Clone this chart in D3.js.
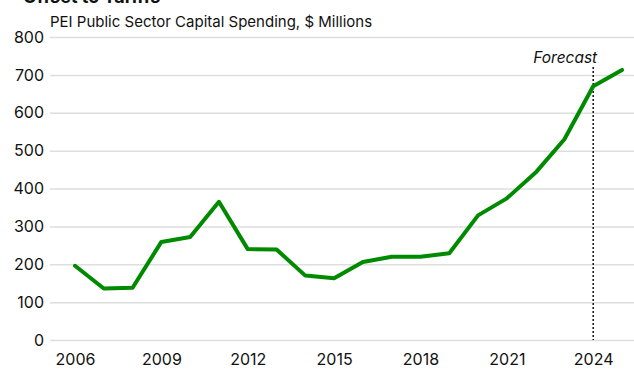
<!DOCTYPE html>
<html>
<head>
<meta charset="utf-8">
<script src="https://cdn.jsdelivr.net/npm/d3@7"></script>
<style>
  html, body { margin: 0; padding: 0; background: #fff; }
  svg { display: block; font-family: Inter, "Open Sans", sans-serif; }
</style>
</head>
<body>
<svg id="chart" width="634" height="369"></svg>
<script>
// PEI public sector capital spending, $ millions (2024 onward is forecast)
const years = [2006, 2007, 2008, 2009, 2010, 2011, 2012, 2013, 2014, 2015,
               2016, 2017, 2018, 2019, 2020, 2021, 2022, 2023, 2024, 2025];
const spending = [196, 136, 138, 259, 272, 365, 240, 239, 170, 163,
                  206, 220, 220, 229, 329, 374, 442, 530, 670, 713];
const yTicks = [0, 100, 200, 300, 400, 500, 600, 700, 800];
const xTicks = [2006, 2009, 2012, 2015, 2018, 2021, 2024];
const forecastStart = 2024;

const svg = d3.select("#chart");

const x = d3.scaleLinear().domain([2006, 2025]).range([75, 622]);
const y = d3.scaleLinear().domain([0, 800]).range([340, 37]);

// Title (runs off the top of the frame) and subtitle
svg.append("text")
  .attr("x", 23).attr("y", 3)
  .attr("font-size", 18).attr("font-weight", 700).attr("fill", "#111")
  .text("Offset to Tariffs");

svg.append("text")
  .attr("x", 50).attr("y", 27)
  .attr("font-size", 15).attr("fill", "#111")
  .text("PEI Public Sector Capital Spending, $ Millions");

// Horizontal gridlines with value labels
const yAxis = d3.axisLeft(y)
  .tickValues(yTicks)
  .tickSize(-584)
  .tickPadding(6);

const gy = svg.append("g")
  .attr("transform", "translate(50,0)")
  .call(yAxis);
gy.select(".domain").remove();
gy.selectAll(".tick line").attr("stroke", "#dedede").attr("stroke-width", 1.5);
gy.selectAll(".tick text")
  .attr("font-size", 16).attr("fill", "#111")
  .attr("font-family", "Inter, 'Open Sans', sans-serif");

// Year labels
const xAxis = d3.axisBottom(x)
  .tickValues(xTicks)
  .tickFormat(d3.format("d"))
  .tickSize(0)
  .tickPadding(14);

const gx = svg.append("g")
  .attr("transform", "translate(0,340)")
  .call(xAxis);
gx.select(".domain").remove();
gx.selectAll(".tick text")
  .attr("font-size", 16).attr("fill", "#111")
  .attr("font-family", "Inter, 'Open Sans', sans-serif");

// Forecast marker
svg.append("line")
  .attr("x1", x(forecastStart)).attr("x2", x(forecastStart))
  .attr("y1", 67).attr("y2", y(0))
  .attr("stroke", "#111").attr("stroke-width", 1.5)
  .attr("stroke-dasharray", "2,2");

svg.append("text")
  .attr("x", x(forecastStart) + 4).attr("y", 63)
  .attr("text-anchor", "end")
  .attr("font-size", 15.5).attr("font-style", "italic").attr("fill", "#111")
  .text("Forecast");

// Spending line
const line = d3.line()
  .x((d, i) => x(years[i]))
  .y(d => y(d));

svg.append("path")
  .datum(spending)
  .attr("d", line)
  .attr("fill", "none")
  .attr("stroke", "#008a00")
  .attr("stroke-width", 4)
  .attr("stroke-linejoin", "round")
  .attr("stroke-linecap", "round");
</script>
</body>
</html>
